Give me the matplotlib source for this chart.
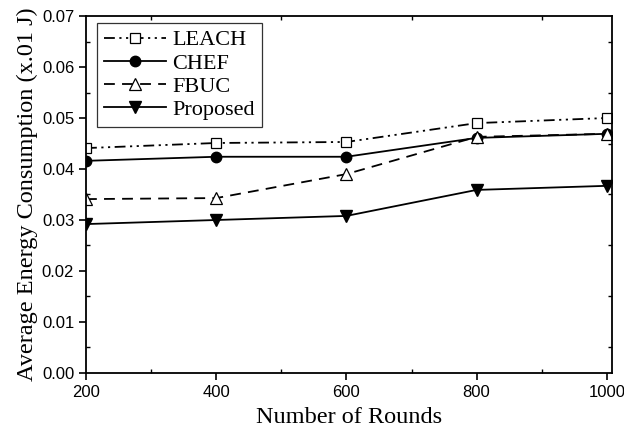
import numpy as np
import matplotlib
matplotlib.use('Agg')
import matplotlib.pyplot as plt
from matplotlib.ticker import MultipleLocator

# energy per round count for each clustering protocol
rounds = [200, 400, 600, 800, 1000]
leach = [0.0441, 0.0451, 0.0453, 0.0490, 0.0500]
chef = [0.0416, 0.0424, 0.0424, 0.0461, 0.0469]
fbuc = [0.0341, 0.0343, 0.0390, 0.0463, 0.0469]
proposed = [0.0292, 0.0300, 0.0308, 0.0359, 0.0367]

serif = ['Liberation Serif', 'DejaVu Serif']
sans = ['Liberation Sans', 'DejaVu Sans']

fig = plt.figure(figsize=(6.24, 4.36), dpi=100)
ax = fig.add_axes([0.1378, 0.1445, 0.8430, 0.8188])

lw = 1.3
ax.plot(rounds, leach, color='black', lw=lw, linestyle=(0, (6, 2.5, 1.2, 2.5, 1.2, 2.5)),
        marker='s', markersize=6.5, markerfacecolor='white', markeredgewidth=0.9, label='LEACH')
ax.plot(rounds, chef, color='black', lw=lw, linestyle='-',
        marker='o', markersize=7.5, label='CHEF')
ax.plot(rounds, fbuc, color='black', lw=lw, linestyle=(0, (6, 4)),
        marker='^', markersize=9, markerfacecolor='white', markeredgewidth=0.9, label='FBUC')
ax.plot(rounds, proposed, color='black', lw=lw, linestyle='-',
        marker='v', markersize=9, label='Proposed')

ax.set_xlim(200, 1008)
ax.set_ylim(0, 0.07)
ax.xaxis.set_major_locator(MultipleLocator(200))
ax.xaxis.set_minor_locator(MultipleLocator(100))
ax.yaxis.set_major_locator(MultipleLocator(0.01))
ax.yaxis.set_minor_locator(MultipleLocator(0.005))
ax.yaxis.set_major_formatter(matplotlib.ticker.FormatStrFormatter('%.2f'))

ax.tick_params(which='major', direction='out', length=5, width=1.2,
               top=False, right=False)
ax.tick_params(which='minor', direction='in', length=3, width=1.0,
               top=True, right=True)
for lab in ax.get_xticklabels() + ax.get_yticklabels():
    lab.set_family(sans)
    lab.set_fontsize(12)
for s in ax.spines.values():
    s.set_linewidth(1.3)

ax.set_xlabel('Number of Rounds', family=serif, fontsize=17.5, labelpad=5)
ax.set_ylabel('Average Energy Consumption (x.01 J)', family=serif, fontsize=17.5, labelpad=3)

leg = ax.legend(loc='upper left', bbox_to_anchor=(0.021, 0.98), prop={'family': serif, 'size': 16},
                frameon=True, fancybox=False, edgecolor='black', handlelength=2.8,
                handletextpad=0.3, labelspacing=0.12, borderpad=0.3, borderaxespad=0.0)
leg.get_frame().set_linewidth(0.9)

fig.savefig('out.png', dpi=100)
